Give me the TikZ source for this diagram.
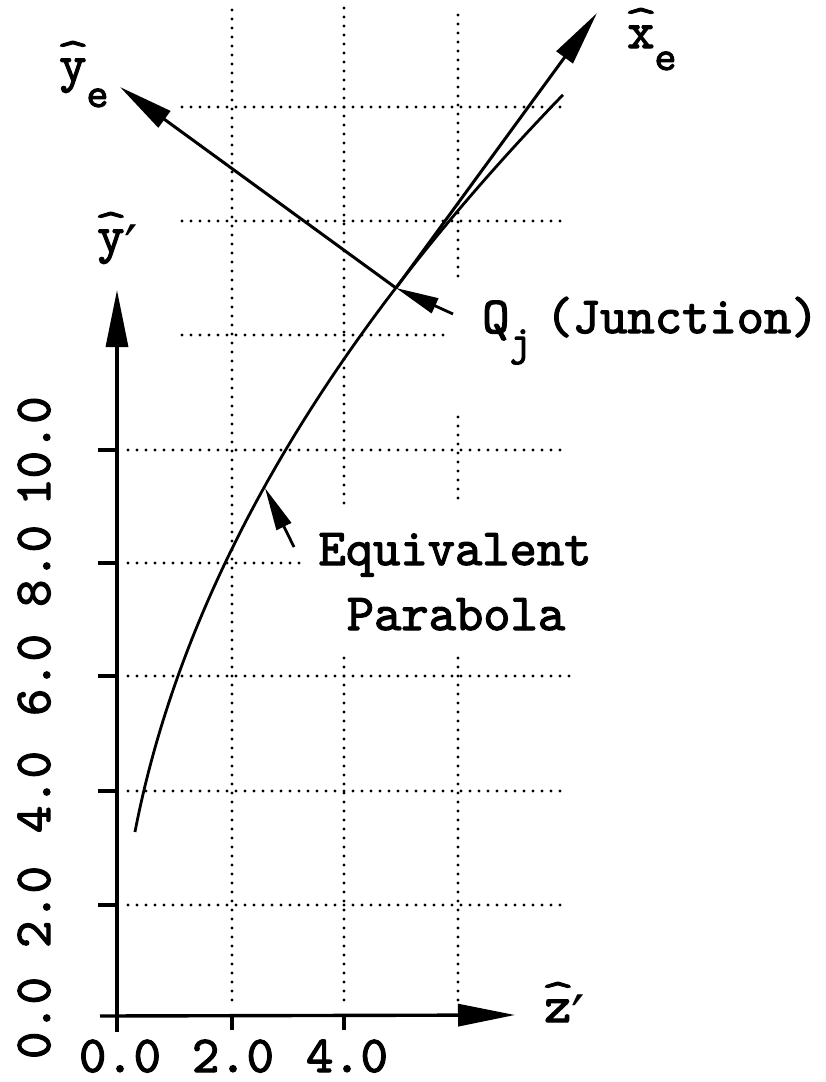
\documentclass[tikz,border=0pt]{standalone}
\usepackage{fontspec}
\usetikzlibrary{arrows.meta}
\newfontfamily\cour{lmmono10-regular.otf}[FakeBold=2.2]
\newfontfamily\dejavu{DejaVu Sans}
\newcommand\hatit[1]{{\ooalign{#1\cr\hidewidth\raisebox{0.27em}{\scalebox{1.25}[0.8]{\textasciicircum}}\hidewidth\cr}}}
\newcommand\primemark{{\dejavu\fontsize{60}{60}\selectfont\raisebox{-16pt}{′}}}
\newcommand\subfont{\fontsize{42}{42}\selectfont}
\begin{document}
\begin{tikzpicture}[x=1pt,y=-1pt,
  lbl/.style={inner sep=0pt, font=\cour\fontsize{52}{62}\selectfont},
  gridl/.style={line width=3.3pt, dash pattern=on 0pt off 9pt, line cap=round},
  axisl/.style={line width=3.4pt},
  ax2/.style={line width=3pt},
  ptr/.style={line width=2.8pt},
  curvel/.style={line width=2.8pt},
  bigtip/.style={-{Triangle[length=57pt,width=22pt]}},
  midtip/.style={-{Triangle[length=55pt,width=20pt]}},
  smalltip/.style={-{Triangle[length=43pt,width=16pt]}}]
\fill[white] (0,0) rectangle (826,1082);
\useasboundingbox (0,0) rectangle (826,1082);
% grid horizontal
\draw[gridl] (128,905) -- (566,905);
\draw[gridl] (128,791) -- (566,791);
\draw[gridl] (128,676) -- (572,676);
\draw[gridl] (128,563) -- (303,563);
\draw[gridl] (128,450) -- (563,450);
\draw[gridl] (182,335) -- (443,335);
\draw[gridl] (182,221) -- (567,221);
\draw[gridl] (182,107) -- (567,107);
% grid vertical
\draw[gridl] (232,10) -- (232,1008);
\draw[gridl] (344,8) -- (344,503);
\draw[gridl] (344,658) -- (344,1008);
\draw[gridl] (458,15) -- (458,277);
\draw[gridl] (458,417) -- (458,502);
\draw[gridl] (458,658) -- (458,1008);
% ticks
\draw[axisl] (98,905) -- (117,905);
\draw[axisl] (98,791) -- (117,791);
\draw[axisl] (98,676) -- (117,676);
\draw[axisl] (98,563) -- (117,563);
\draw[axisl] (98,450) -- (117,450);
\draw[axisl] (232,1016) -- (232,1030);
\draw[axisl] (344,1016) -- (344,1030);
% axes
\coordinate (Ybot) at (117,1032);
\coordinate (Ytop) at (117,290);
\coordinate (Zleft) at (100,1016);
\coordinate (Ztip) at (515,1015);
\draw[axisl,bigtip] (Ybot) -- (Ytop);
\draw[axisl,bigtip] (Zleft) -- (Ztip);
% parabola
\draw[curvel] plot[domain=3.26:16.25, samples=80, smooth] ({117+56.75*\x*\x/33.6},{1017-56.75*\x});
% junction axes
\coordinate (Q) at (396,288);
\coordinate (XeTip) at (597,13);
\coordinate (YeTip) at (120,87);
\draw[ax2,midtip] (Q) -- (XeTip);
\draw[ax2,midtip] (Q) -- (YeTip);
% pointers
\coordinate (QT) at (453,314);
\draw[ptr,smalltip] (QT) -- (Q);
\coordinate (PT) at (294,547);
\coordinate (PH) at (265,488);
\draw[ptr,smalltip] (PT) -- (PH);
% labels
\node[lbl, anchor=base west] (lye) at (59,81) {\hatit{y}\raisebox{-26pt}{\subfont e}};
\node[lbl, anchor=base west] (lxe) at (627,48) {\hatit{x}\raisebox{-22pt}{\subfont e}};
\node[lbl, anchor=base west] (lyp) at (97,252) {\hatit{y}\primemark};
\node[lbl, anchor=base west] (lzp) at (544,1022) {\hatit{z}\primemark};
\node[lbl, anchor=base west] (lq) at (482,333) {Q\raisebox{-22pt}{\subfont j}\hspace{14pt}(Junction)};
\node[lbl, anchor=base] (leq) at (455,565) {Equivalent};
\node[lbl, anchor=base] (lpa) at (456,630) {Parabola};
% tick labels
\node[lbl, anchor=base] (x0) at (120,1072) {0.0};
\node[lbl, anchor=base] (x2) at (233,1072) {2.0};
\node[lbl, anchor=base] (x4) at (347,1072) {4.0};
\node[lbl, anchor=base, rotate=90] (y0) at (50,1018) {0.0};
\node[lbl, anchor=base, rotate=90] (y2) at (50,907) {2.0};
\node[lbl, anchor=base, rotate=90] (y4) at (50,792) {4.0};
\node[lbl, anchor=base, rotate=90] (y6) at (50,675) {6.0};
\node[lbl, anchor=base, rotate=90] (y8) at (50,566) {8.0};
\node[lbl, anchor=base, rotate=90] (y10) at (50,451) {10.0};
\end{tikzpicture}
\end{document}
